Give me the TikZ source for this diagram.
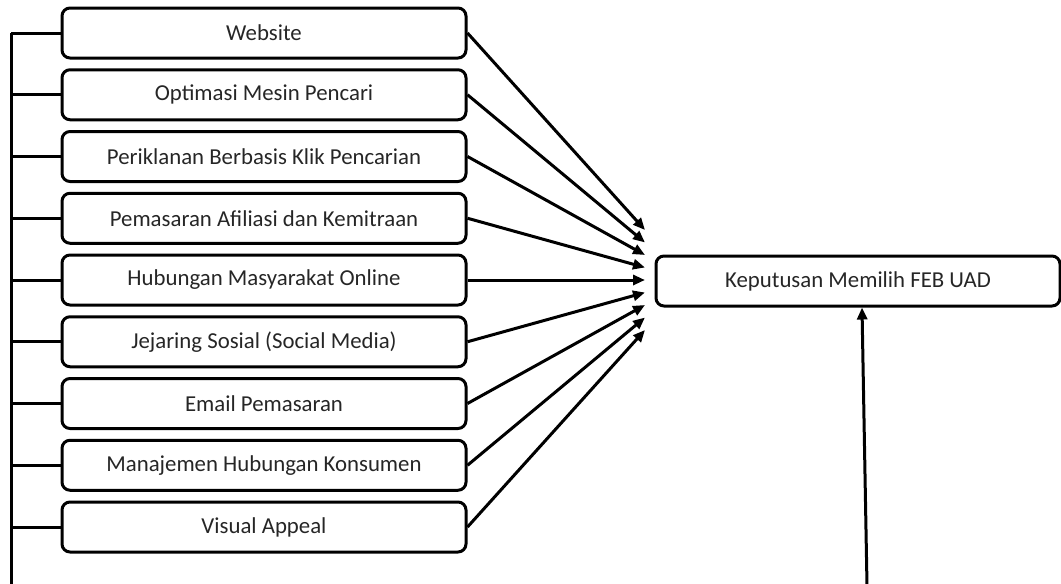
\documentclass[tikz,border=0pt]{standalone}
\usepackage{fontspec}
\setmainfont{Carlito}
\usetikzlibrary{arrows.meta}
\tikzset{
  faktor/.style={draw, line width=1.5pt, rounded corners=4pt, minimum width=202pt, minimum height=25pt, inner sep=0pt, text=black!85, font=\fontsize{11.4}{13}\selectfont},
  garis/.style={line width=1.5pt},
  panah/.style={line width=1.5pt, -{Triangle[length=6pt,width=5pt]}},
}
\begin{document}
\begin{tikzpicture}[x=0.5pt, y=-0.5pt, line join=round]
  \useasboundingbox (0,0) rectangle (1061,584);
  \path
  (11,33) coordinate (T)
  (11,585.5) coordinate (B)
  (867,585.5) coordinate (R)
  ;
  \node[faktor] (kep) at (858,281) {Keputusan Memilih FEB UAD};

  \foreach \i/\teks in {0/Website, 1/Optimasi Mesin Pencari, 2/Periklanan Berbasis Klik Pencarian, 3/Pemasaran Afiliasi dan Kemitraan, 4/Hubungan Masyarakat Online, 5/Jejaring Sosial (Social Media), 6/Email Pemasaran, 7/Manajemen Hubungan Konsumen, 8/Visual Appeal}{
    \node[faktor] (f\i) at (264,33+61.75*\i) {\teks};
    \coordinate (p\i) at (645,230+12.5*\i);
    \draw[garis] (f\i.west) -- (f\i.west -| T);
    \draw[panah] (f\i.east) -- (p\i);
  }

  \draw[garis] (T) -- (B) -- (R);
  \draw[panah] (R) -- ([xshift=2pt]kep.south);
\end{tikzpicture}
\end{document}
